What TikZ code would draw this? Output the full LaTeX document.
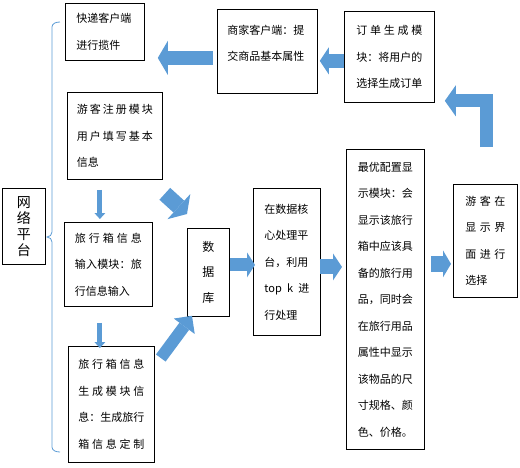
\documentclass[tikz,border=0pt]{standalone}
\usepackage{fontspec}
\newfontfamily\cjk{Noto Sans CJK SC}
\usetikzlibrary{arrows.meta,calc}
\definecolor{arrowblue}{HTML}{5B9BD5}
\newcommand\dl[1]{\makebox[\hsize][s]{\dlchars#1\relax}}
\def\dlchars#1#2\relax{#1\ifx\relax#2\relax\else\hfill\dlchars#2\relax\fi}
\tikzset{
    box/.style={draw, line width=0.8pt, anchor=north west, inner sep=0pt, align=left, font=\cjk\fontsize{11}{26.5}\selectfont},
    bigarrow/.style n args={3}{draw=arrowblue, line width=#1, -{Triangle[length=#2, width=#3, line width=0pt]}}
}
\begin{document}
\begin{tikzpicture}[x=1pt, y=-1pt]
            \useasboundingbox (0,0) rectangle (520,467);

            \node (platform) at (2,188) [box, minimum width=43, minimum height=76, align=center, font=\cjk\fontsize{14}{16}\selectfont] {网\\络\\平\\台};
            \draw[arrowblue, line width=0.8pt] (60,22) to[out=180, in=90] (52,27) -- (52,232) to[out=-90, in=0] (47,237) to[out=0, in=90] (52,242) -- (52,447) to[out=-90, in=180] (60,452);

            \node (express) at (65,3) [box, minimum width=79, minimum height=57, text width=57] {快递客户端\\进行揽件};
            \node (merchant) at (217,9) [box, minimum width=100, minimum height=84, text width=80] {商家客户端：提\\交商品基本属性\\[-9pt]\mbox{}};
            \node (order) at (344,11) [box, minimum width=90, minimum height=91, text width=66] {\dl{订单生成模}\\\dl{块：将用户的}\\选择生成订单};
            \node (register) at (67,92) [box, minimum width=95, minimum height=87, text width=76] {\dl{游客注册模块}\\\dl{用户填写基本}\\信息};
            \node (input) at (64,222) [box, minimum width=88, minimum height=84, text width=67] {\dl{旅行箱信息}\\\dl{输入模块：旅}\\行信息输入};
            \node (gen) at (68,346) [box, minimum width=86, minimum height=116, text width=66] {\dl{旅行箱信息}\\\dl{生成模块信}\\\dl{息：生成旅行}\\\dl{箱信息定制}};
            \node (db) at (187,228) [box, minimum width=42, minimum height=88, align=center, font=\cjk\fontsize{12}{25.5}\selectfont] {数\\据\\库};
            \node (core) at (253,188) [box, minimum width=67, minimum height=147, text width=45] {在数据核\\心处理平\\台，利用\\\makebox[\hsize][s]{top\hfill k\hfill 进}\\行处理};
            \node (best) at (346,149) [box, minimum width=78, minimum height=300, text width=55] {最优配置显\\\dl{示模块：会}\\显示该旅行\\箱中应该具\\备的旅行用\\品，同时会\\在旅行用品\\属性中显示\\该物品的尺\\寸规格、颜\\色、价格。};
            \node (visitor) at (453,184) [box, minimum width=64, minimum height=113, text width=40] {\dl{游客在}\\\dl{显示界}\\\dl{面进行}\\选择};

            \coordinate (m1) at ($(merchant.west)+(-4,6.5)$);
            \coordinate (o1) at ($(order.west)+(0,4)$);
            \coordinate (v1) at ($(visitor.north)+(1.5,-37)$);
            \coordinate (o2) at ($(order.south east)+(0,-2)$);
            \coordinate (r1) at ($(register.south)+(-15,10)$);
            \coordinate (i1) at ($(input.south)+(-8.5,16)$);
            \coordinate (d1) at ($(db.east)+(0,-7.5)$);
            \coordinate (c1) at ($(core.east)+(-1,5)$);
            \coordinate (b1) at ($(best.east)+(6,-35.5)$);

            \draw[bigarrow={14pt}{10pt}{34pt}, shorten >=13pt] (m1) -- (m1 -| express.east);
            \draw[bigarrow={14pt}{9pt}{27pt}, shorten >=2pt] (o1) -- (o1 -| merchant.east);
            \draw[bigarrow={13pt}{11pt}{31pt}, shorten >=10pt] (v1) |- (o2);
            \draw[bigarrow={5pt}{6pt}{11pt}, shorten >=3pt] (r1) -- (r1 |- input.north);
            \draw[bigarrow={5pt}{6pt}{11pt}, shorten >=-2pt] (i1) -- (i1 |- gen.north);
            \draw[bigarrow={16pt}{11pt}{34pt}] ($(register.south east)+(2,14)$) -- ($(db.north west)+(0,-14)$);
            \draw[bigarrow={12pt}{13pt}{26pt}] ($(gen.north east)+(6,12)$) -- ($(db.south west)+(5,-1)$);
            \draw[bigarrow={13pt}{8pt}{25pt}, shorten >=-2pt] (d1) -- (d1 -| core.west);
            \draw[bigarrow={15pt}{9pt}{27pt}, shorten >=4pt] (c1) -- (c1 -| best.west);
            \draw[bigarrow={16pt}{8pt}{27pt}, shorten >=2pt] (b1) -- (b1 -| visitor.west);
        \end{tikzpicture}
\end{document}
